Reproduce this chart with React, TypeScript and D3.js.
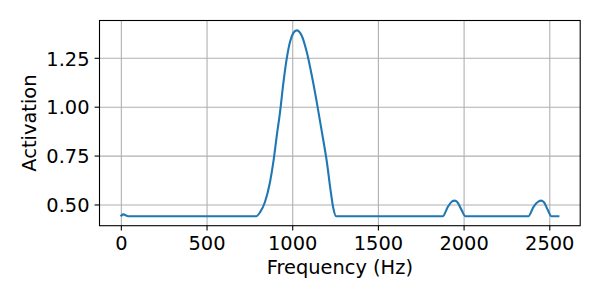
import React from 'react'
import { scaleLinear, line, curveMonotoneX } from 'd3'

// values
const freqs = [0, 12, 40, 786, 809, 838, 867, 887, 907, 926, 946, 965, 984, 1004, 1023, 1052, 1082, 1111, 1140, 1170, 1199, 1222, 1237, 1253, 1875, 1905, 1930, 1945, 1960, 1985, 2008, 2375, 2405, 2435, 2449, 2465, 2488, 2510, 2550]
const activation = [0.446, 0.452, 0.442, 0.442, 0.462, 0.515, 0.615, 0.72, 0.855, 0.975, 1.128, 1.248, 1.333, 1.38, 1.393, 1.367, 1.282, 1.163, 1.027, 0.874, 0.721, 0.568, 0.483, 0.442, 0.442, 0.49, 0.518, 0.522, 0.515, 0.475, 0.442, 0.442, 0.49, 0.518, 0.522, 0.515, 0.475, 0.442, 0.442]
const xTicks = [0, 500, 1000, 1500, 2000, 2500]
const yTicks = [0.5, 0.75, 1.0, 1.25]

export default function App() {
    const width = 600, height = 300
    const left = 99.5, right = 580.2, top = 20.5, bottom = 225.7
    const font = 'DejaVu Sans'
    const fs = 19.4

    const x = scaleLinear().domain([-127.5, 2677.5]).range([left, right])
    const y = scaleLinear().domain([0.3940, 1.4433]).range([bottom, top])

    const pts = freqs.map((f, i) => [f, activation[i]] as [number, number])
    const path = line<[number, number]>()
        .x(d => x(d[0]))
        .y(d => y(d[1]))
        .curve(curveMonotoneX)(pts)

    return (
        <div style={{ position: 'absolute', left: 0, top: 0 }}>
            <svg width={width} height={height} style={{ display: 'block', background: 'white' }} fontFamily={font}>
                {/* grid */}
                {xTicks.map(t => (
                    <line key={'gx' + t} x1={x(t)} x2={x(t)} y1={top} y2={bottom} stroke='#b0b0b0' strokeWidth={1.1} />
                ))}
                {yTicks.map(t => (
                    <line key={'gy' + t} x1={left} x2={right} y1={y(t)} y2={y(t)} stroke='#b0b0b0' strokeWidth={1.1} />
                ))}

                <path d={path || ''} fill='none' stroke='#1f77b4' strokeWidth={2.1} strokeLinejoin='round' strokeLinecap='square' />

                <rect x={left} y={top} width={right - left} height={bottom - top} fill='none' stroke='black' strokeWidth={1.1} />

                {/* x axis */}
                {xTicks.map(t => (
                    <g key={'tx' + t}>
                        <line x1={x(t)} x2={x(t)} y1={bottom} y2={bottom + 4.9} stroke='black' strokeWidth={1.1} />
                        <text x={x(t)} y={250} textAnchor='middle' fontSize={fs} fill='black'>{t}</text>
                    </g>
                ))}
                {/* y axis */}
                {yTicks.map(t => (
                    <g key={'ty' + t}>
                        <line x1={left - 4.9} x2={left} y1={y(t)} y2={y(t)} stroke='black' strokeWidth={1.1} />
                        <text x={89.5} y={y(t) + 7.3} textAnchor='end' fontSize={fs} fill='black'>{t.toFixed(2)}</text>
                    </g>
                ))}

                <text x={(left + right) / 2} y={274} textAnchor='middle' fontSize={fs} fill='black'>Frequency (Hz)</text>
                <text transform={`translate(35.5,${(top + bottom) / 2}) rotate(-90)`} textAnchor='middle' fontSize={fs} fill='black'>Activation</text>
            </svg>
        </div>
    )
}
